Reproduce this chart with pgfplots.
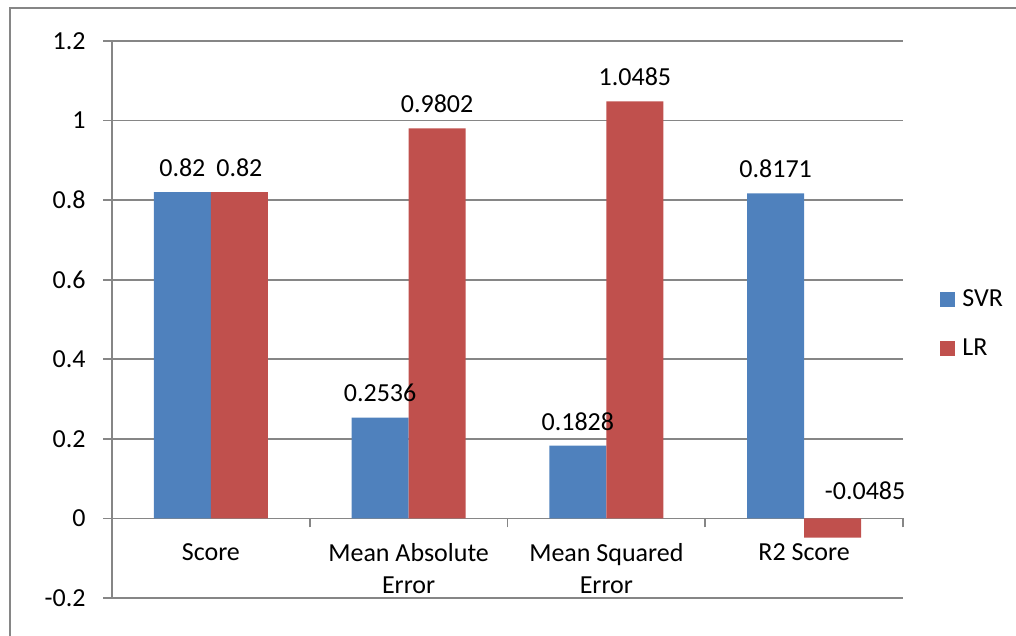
\documentclass[border=0pt]{standalone}
\usepackage{pgfplots}
\usepackage{pgfplotstable}
\pgfplotsset{compat=1.18}
\usepackage{fontspec}
\setmainfont{Carlito}
\definecolor{svr}{RGB}{79,129,189}
\definecolor{lr}{RGB}{192,80,77}
\definecolor{axgray}{RGB}{134,134,134}
\pgfplotstableread{
x svr lr
0 0.82 0.82
1 0.2536 0.9802
2 0.1828 1.0485
3 0.8171 -0.0485
}\datatable
\begin{document}
\begin{tikzpicture}[font=\fontsize{13}{16}\selectfont]
\path[use as bounding box] (0,0) rectangle (508pt,318pt);
\draw[axgray, line width=0.7pt] (5pt,0) -- (5pt,314pt) -- (508pt,314pt);
\begin{axis}[
  at={(56pt,19pt)}, anchor=south west,
  scale only axis, width=395.5pt, height=278.5pt,
  xmin=-0.5, xmax=3.5, ymin=-0.2, ymax=1.2,
  ybar=0pt, bar width=28.5pt,
  axis x line*=middle, axis y line*=left,
  hide obscured x ticks=false, hide obscured y ticks=false,
  axis line style={draw=axgray, line width=0.8pt},
  ymajorgrids, grid style={draw=axgray, line width=0.8pt},
  ytick={-0.2,0,0.2,0.4,0.6,0.8,1,1.2},
  yticklabels={-0.2,0,0.2,0.4,0.6,0.8,1,1.2},
  xtick={-0.5,0.5,1.5,2.5,3.5}, xticklabels={},
  extra x ticks={0,1,2,3},
  extra x tick labels={Score,{Mean Absolute\\Error},{Mean Squared\\Error},R2 Score},
  extra x tick style={major tick length=0pt},
  xticklabel style={align=center, anchor=north, inner sep=0pt, yshift=-12.5pt},
  yticklabel style={anchor=east, inner sep=0pt, xshift=-8.5pt},
  tick align=outside,
  major tick length=4.5pt,
  tick style={draw=axgray, line width=0.8pt},
  legend image code/.code={\fill[#1] (0pt,-3.75pt) rectangle (7.5pt,3.75pt);},
  legend style={at={(rel axis cs:1,0.492)}, anchor=west, xshift=18.5pt, draw=none, fill=none,
    inner sep=0pt, row sep=15pt, column sep=3.5pt, nodes={inner sep=0pt, anchor=west}},
  legend cell align=left,
  every node near coord/.append style={inner sep=0pt, anchor=south, yshift=7.5pt, text=black},
]
\addplot[fill=svr, draw=none, bar shift=-14.25pt] table[x=x, y=svr]{\datatable};
\addplot[fill=lr, draw=none, bar shift=14.25pt] table[x=x, y=lr]{\datatable};
\legend{SVR,LR}
\addplot[draw=none, fill=none, bar shift=-14.25pt, forget plot, point meta=explicit symbolic,
  nodes near coords={\pgfplotspointmeta}] table[x=x, y=svr, meta=svr]{\datatable};
\addplot[draw=none, fill=none, bar shift=14.25pt, forget plot, point meta=explicit symbolic,
  nodes near coords={\pgfplotspointmeta}] coordinates {(0,0.82)[0.82] (1,0.9802)[0.9802] (2,1.0485)[1.0485]};
\addplot[draw=none, fill=none, bar shift=14.25pt, forget plot, point meta=explicit symbolic,
  nodes near coords={\pgfplotspointmeta},
  every node near coord/.append style={anchor=south, xshift=16.25pt, yshift=11.5pt}] coordinates {(3,-0.0485)[-0.0485]};
\end{axis}
\end{tikzpicture}
\end{document}
